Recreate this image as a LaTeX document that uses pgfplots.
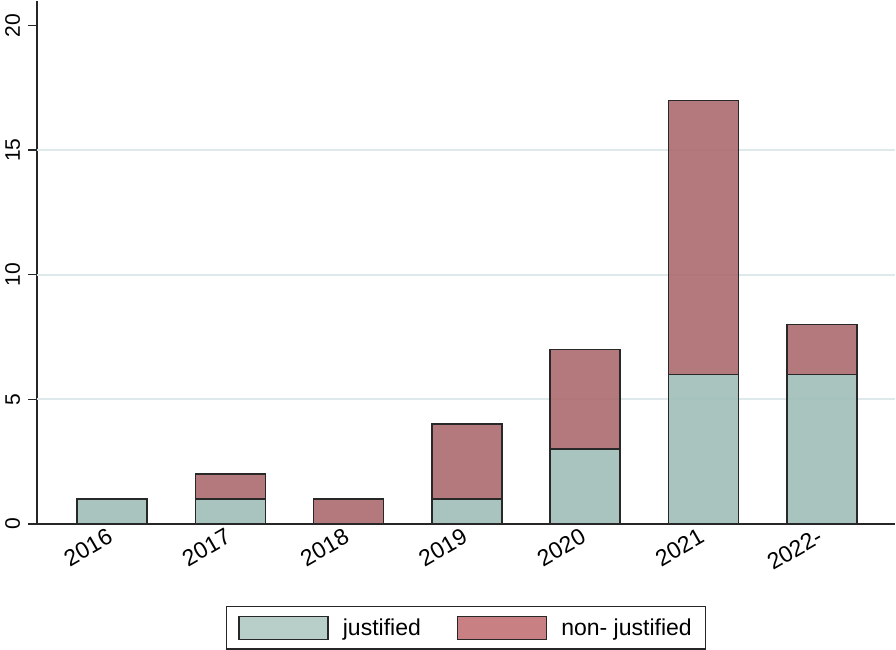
\documentclass[border=0pt]{standalone}
\usepackage{fontspec}
\setmainfont{Liberation Sans}
\usepackage{pgfplots}
\pgfplotsset{compat=1.18}

\definecolor{justbar}{RGB}{160,190,183}
\definecolor{nonbar}{RGB}{172,106,110}
\definecolor{justleg}{RGB}{184,206,200}
\definecolor{nonleg}{RGB}{200,128,130}
\definecolor{gridc}{RGB}{222,233,236}
\definecolor{edge}{RGB}{40,40,40}

\begin{document}
\begin{tikzpicture}
\begin{axis}[
  scale only axis,
  width=858pt, height=523pt,
  ybar stacked,
  bar width=70pt,
  xmin=-0.634, xmax=6.62,
  ymin=0, ymax=21,
  axis lines*=left,
  axis line style={line width=1.4pt, color=black!85},
  /pgf/number format/assume math mode=true,
  xtick={0,...,6},
  xticklabels={2016,2017,2018,2019,2020,2021,2022-},
  x tick style={draw=none},
  x tick label style={rotate=30, anchor=north east, font=\fontsize{23}{25}\selectfont, xshift=1pt, yshift=11pt},
  ytick={0,5,10,15,20},
  y tick style={line width=1.4pt, black!85},
  tick align=outside,
  major tick length=9pt,
  y tick label style={rotate=90, anchor=south, inner sep=0pt, outer sep=8pt, font=\fontsize{21}{24}\selectfont},
  extra y ticks={5,10,15},
  extra y tick labels={},
  extra y tick style={grid=major, major tick length=0pt},
  grid style={gridc, line width=1.6pt},
  legend style={at={(0.5,-0.157)}, anchor=north, legend columns=2,
    draw=black!85, line width=1.4pt,
    font=\fontsize{23}{26}\selectfont,
    inner xsep=12pt, inner ysep=9pt,
    /tikz/every even column/.append style={column sep=34pt}},
  legend cell align=left,
]
\addplot+[ybar, fill=justbar, fill opacity=0.9, draw=edge, line width=1.5pt, forget plot]
  coordinates {(0,1) (1,1) (2,0) (3,1) (4,3) (5,6) (6,6)};
\addplot+[ybar, fill=nonbar, fill opacity=0.9, draw=edge, line width=1.5pt, forget plot]
  coordinates {(0,0) (1,1) (2,1) (3,3) (4,4) (5,11) (6,2)};
\addlegendimage{legend image code/.code={\draw[fill=justleg, draw=edge, line width=1.4pt] (0pt,-11pt) rectangle (89pt,12pt);}}
\addlegendentry{\hspace{12pt}justified}
\addlegendimage{legend image code/.code={\draw[fill=nonleg, draw=edge, line width=1.4pt] (0pt,-11pt) rectangle (89pt,12pt);}}
\addlegendentry{\hspace{12pt}non- justified\hspace{10pt}}
\end{axis}
\path (current axis.south west) ++(-37pt,0pt);
\end{tikzpicture}
\end{document}
